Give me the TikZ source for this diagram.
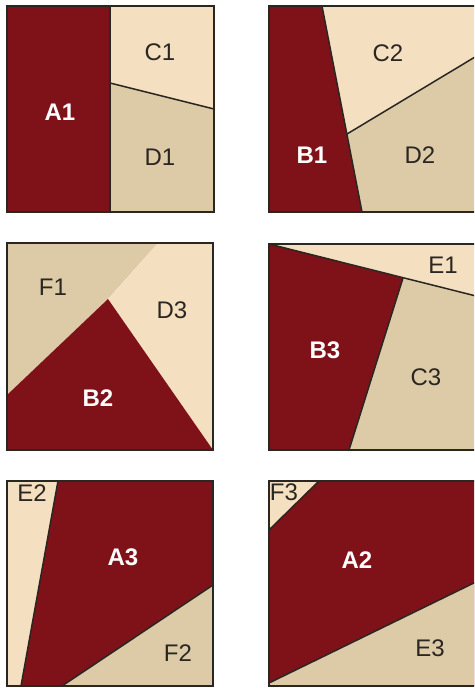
\documentclass[tikz,border=0pt]{standalone}
\usepackage{fontspec}
\setmainfont{Liberation Sans}
\usetikzlibrary{positioning}

\definecolor{wine}{HTML}{7E1218}
\definecolor{cream}{HTML}{F4DFC0}
\definecolor{sand}{HTML}{DDCBA8}
\definecolor{ink}{HTML}{2A2622}

\begin{document}
\begin{tikzpicture}[
    x=1pt, y=-1pt,
    frame/.style={draw=ink, line width=2pt},
    edge/.style={draw=ink, line width=1.5pt},
    dark/.style={fill=wine},
    light/.style={fill=cream},
    mid/.style={fill=sand},
    lbl/.style={font=\fontsize{24}{24}\selectfont, text=ink, inner sep=0pt},
    wlbl/.style={font=\fontsize{24}{24}\selectfont\bfseries, text=white, inner sep=0pt},
]
\useasboundingbox (0,0) rectangle (474,688);
\clip (0,0) rectangle (474,688);

%% TILES
    % tile 1
    \fill[dark] (7,6) rectangle (110,212);
    \fill[light] (110,6) -- (214,6) -- (214,109) -- (110,83) -- cycle;
    \fill[mid] (110,83) -- (214,109) -- (214,212) -- (110,212) -- cycle;
    \draw[edge] (110,6) -- (110,212);
    \draw[edge] (110,83) -- (214,109);
    \draw[frame] (7,6) rectangle (214,212);

    % tile 2
    \fill[dark] (269,6) -- (322,6) -- (362,212) -- (269,212) -- cycle;
    \fill[light] (322,6) -- (480,6) -- (480,54) -- (347,134) -- cycle;
    \fill[mid] (347,134) -- (480,54) -- (480,212) -- (362,212) -- cycle;
    \draw[edge] (322,6) -- (362,212);
    \draw[edge] (347,134) -- (480,54);
    \draw[frame] (269,6) rectangle (480,212);

    % tile 3
    \fill[mid] (7,243) -- (158,243) -- (108,299) -- (7,395) -- cycle;
    \fill[light] (158,243) -- (213,243) -- (213,450) -- (108,299) -- cycle;
    \fill[dark] (108,299) -- (213,450) -- (7,450) -- (7,395) -- cycle;
    \draw[frame] (7,243) rectangle (213,450);

    % tile 4
    \fill[light] (269,244) -- (480,244) -- (480,297) -- cycle;
    \fill[dark] (269,244) -- (403,278) -- (349,450) -- (269,450) -- cycle;
    \fill[mid] (403,278) -- (480,297) -- (480,450) -- (349,450) -- cycle;
    \draw[edge] (269,244) -- (480,297);
    \draw[edge] (403,278) -- (349,450);
    \draw[frame] (269,244) rectangle (480,450);

    % tile 5
    \fill[light] (7,481) -- (58,481) -- (21,686) -- (7,686) -- cycle;
    \fill[dark] (58,481) -- (213,481) -- (213,585) -- (62,686) -- (21,686) -- cycle;
    \fill[mid] (213,585) -- (213,686) -- (62,686) -- cycle;
    \draw[edge] (58,481) -- (21,686);
    \draw[edge] (213,585) -- (62,686);
    \draw[frame] (7,481) rectangle (213,686);

    % tile 6
    \fill[dark] (269,481) rectangle (480,686);
    \fill[light] (269,481) -- (319,481) -- (269,530) -- cycle;
    \fill[mid] (269,683) -- (480,580) -- (480,686) -- (269,686) -- cycle;
    \draw[edge] (319,481) -- (269,530);
    \draw[edge] (269,683) -- (480,580);
    \draw[frame] (269,481) rectangle (480,686);

%% LABELS
    \node[wlbl] (a1) at (60,112) {A1};
    \node[lbl] (c1) at (160,52) {C1};
    \node[lbl] (d1) at (160,157) {D1};

    \node[wlbl] (b1) at (312,155) {B1};
    \node[lbl] (c2) at (388,53) {C2};
    \node[lbl] (d2) at (420,155) {D2};

    \node[lbl] (f1) at (53,287) {F1};
    \node[lbl] (d3) at (172,310) {D3};
    \node[wlbl] (b2) at (98,398) {B2};

    \node[lbl] (e1) at (443,265) {E1};
    \node[wlbl] (b3) at (325,350) {B3};
    \node[lbl] (c3) at (426,377) {C3};

    \node[lbl] (e2) at (32,493) {E2};
    \node[wlbl] (a3) at (123,557) {A3};
    \node[lbl] (f2) at (178,653) {F2};

    \node[lbl] (f3) at (284,492) {F3};
    \node[wlbl] (a2) at (357,560) {A2};
    \node[lbl] (e3) at (430,648) {E3};

\end{tikzpicture}
\end{document}
